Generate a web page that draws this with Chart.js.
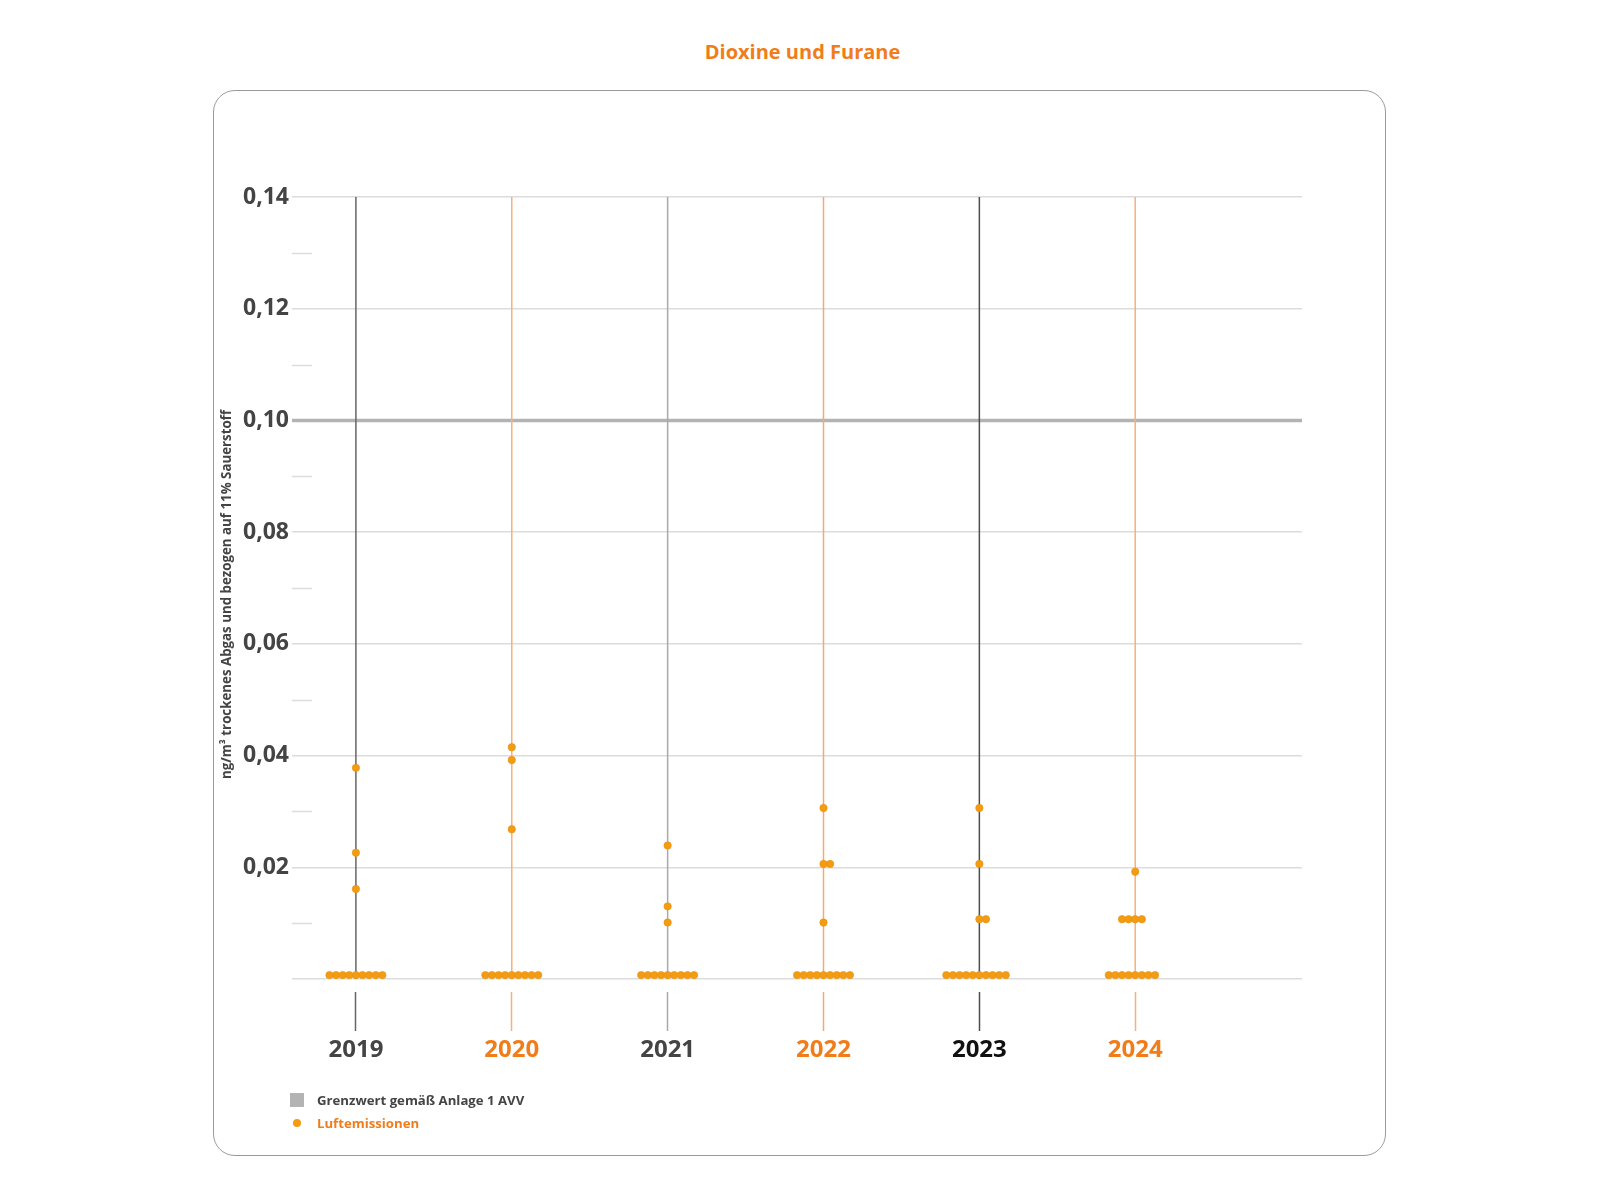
<!DOCTYPE html>
<html lang="de">
<head>
<meta charset="utf-8">
<title>Dioxine und Furane</title>
<script src="https://cdn.jsdelivr.net/npm/chart.js@4.4.1/dist/chart.umd.min.js"></script>
<style>
  html, body { margin: 0; padding: 0; background: #fff; }
  body { width: 1600px; height: 1200px; position: relative; overflow: hidden; font-family: "Open Sans", sans-serif; }
  #titel { position: absolute; left: 0; width: 1605px; top: 38px; text-align: center; font-size: 20px; font-weight: 700; color: #f07d1a; }
  #rahmen { position: absolute; left: 213px; top: 90px; width: 1173px; height: 1066px; border: 1.5px solid #9b9b9b; border-radius: 22px; box-sizing: border-box; }
  #diagramm { position: absolute; left: 0; top: 0; }
  #legende { position: absolute; left: 290px; top: 1088px; font-size: 13.2px; font-weight: 700; }
  .eintrag { display: flex; align-items: center; height: 23.5px; }
  .symbol { width: 27px; display: flex; align-items: center; }
  .quadrat { width: 14px; height: 14px; background: #b3b3b3; }
  .punkt { width: 8px; height: 8px; border-radius: 50%; background: #f39c12; margin-left: 3px; }
</style>
</head>
<body>
<div id="titel">Dioxine und Furane</div>
<div id="rahmen"></div>
<canvas id="diagramm" width="1600" height="1200"></canvas>
<div id="legende">
  <div class="eintrag" style="color:#444"><span class="symbol"><span class="quadrat"></span></span>Grenzwert gemäß Anlage 1 AVV</div>
  <div class="eintrag" style="color:#f07d1a"><span class="symbol"><span class="punkt"></span></span>Luftemissionen</div>
</div>
<script>
// Messwerte je Jahr (ng/m³)
const jahre = [2019, 2020, 2021, 2022, 2023, 2024];
const werte2019 = [0.0378, 0.0226, 0.0161, 0.0007, 0.0007, 0.0007, 0.0007, 0.0007, 0.0007, 0.0007, 0.0007, 0.0007];
const werte2020 = [0.0415, 0.0392, 0.0268, 0.0007, 0.0007, 0.0007, 0.0007, 0.0007, 0.0007, 0.0007, 0.0007, 0.0007];
const werte2021 = [0.0239, 0.0130, 0.0101, 0.0007, 0.0007, 0.0007, 0.0007, 0.0007, 0.0007, 0.0007, 0.0007, 0.0007];
const werte2022 = [0.0306, 0.0206, 0.0206, 0.0101, 0.0007, 0.0007, 0.0007, 0.0007, 0.0007, 0.0007, 0.0007, 0.0007, 0.0007];
const werte2023 = [0.0306, 0.0206, 0.0107, 0.0107, 0.0007, 0.0007, 0.0007, 0.0007, 0.0007, 0.0007, 0.0007, 0.0007, 0.0007, 0.0007];
const werte2024 = [0.0192, 0.0107, 0.0107, 0.0107, 0.0107, 0.0007, 0.0007, 0.0007, 0.0007, 0.0007, 0.0007, 0.0007, 0.0007];
const messwerte = [werte2019, werte2020, werte2021, werte2022, werte2023, werte2024];

const grenzwert = 0.1;
const yTicks = [0, 0.02, 0.04, 0.06, 0.08, 0.1, 0.12, 0.14];
const yNebenTicks = [0.01, 0.03, 0.05, 0.07, 0.09, 0.11, 0.13];

// Farben
const linienFarben = ['#666666', '#f7b07a', '#a9a9a9', '#f5a870', '#4d4d4d', '#f7b07a'];
const labelFarben = ['#444444', '#f07d1a', '#444444', '#f07d1a', '#111111', '#f07d1a'];
const orange = '#f39c12';

const xMin = 2018.59, xMax = 2025.07;
const yMin = -0.00233, yMax = 0.14;
const punktAbstand = 0.0424; // horizontaler Abstand gleicher Werte (in Jahren)

// Punkte mit gleichem Wert nebeneinander legen
const punkte = [];
jahre.forEach((jahr, i) => {
  const gruppen = {};
  messwerte[i].forEach(v => { (gruppen[v] = gruppen[v] || []).push(v); });
  Object.values(gruppen).forEach(g => {
    const n = g.length;
    // Paare: erster Punkt auf der Linie, zweiter rechts daneben
    const start = n === 2 ? 0 : -Math.floor(n / 2);
    g.forEach((v, k) => {
      punkte.push({ x: jahr + (start + k) * punktAbstand, y: v });
    });
  });
});

// kurze Zwischenstriche an der y-Achse
const nebenStriche = {
  id: 'nebenStriche',
  beforeDatasetsDraw(chart) {
    const { ctx, chartArea, scales: { y } } = chart;
    ctx.save();
    ctx.strokeStyle = '#dcdcdc';
    ctx.lineWidth = 1.5;
    yNebenTicks.forEach(v => {
      const py = Math.round(y.getPixelForValue(v)) + 0.5;
      ctx.beginPath();
      ctx.moveTo(chartArea.left, py);
      ctx.lineTo(chartArea.left + 20, py);
      ctx.stroke();
    });
    ctx.restore();
  }
};

Chart.defaults.font.family = '"Open Sans", sans-serif';

const datasets = [
  {
    label: 'Grenzwert gemäß Anlage 1 AVV',
    data: [{ x: xMin, y: grenzwert }, { x: xMax, y: grenzwert }],
    showLine: true,
    borderColor: '#b3b3b3',
    borderWidth: 3.5,
    pointRadius: 0,
    order: 3
  }
];

jahre.forEach((jahr, i) => {
  datasets.push({
    label: 'Jahr ' + jahr,
    data: [{ x: jahr, y: 0 }, { x: jahr, y: yMax }],
    showLine: true,
    borderColor: linienFarben[i],
    borderWidth: 1.5,
    pointRadius: 0,
    order: 2
  });
});

datasets.push({
  label: 'Luftemissionen',
  data: punkte,
  backgroundColor: orange,
  borderColor: '#e8900c',
  borderWidth: 0.6,
  pointRadius: 3.7,
  order: 1
});

const ctx = document.getElementById('diagramm').getContext('2d');
new Chart(ctx, {
  type: 'scatter',
  data: { datasets },
  options: {
    responsive: false,
    animation: false,
    devicePixelRatio: 1,
    layout: { padding: { left: 200, top: 197, right: 298, bottom: 128 } },
    plugins: {
      legend: { display: false },
      tooltip: { enabled: false }
    },
    scales: {
      x: {
        type: 'linear',
        min: xMin,
        max: xMax,
        afterBuildTicks: scale => { scale.ticks = jahre.map(v => ({ value: v })); },
        afterFit: scale => { scale.height = 80; },
        border: { display: false },
        grid: {
          drawOnChartArea: false,
          drawTicks: true,
          tickLength: 39,
          tickWidth: 1.5,
          tickColor: c => linienFarben[c.index]
        },
        ticks: {
          padding: 5,
          autoSkip: false,
          maxRotation: 0,
          color: c => labelFarben[c.index],
          font: { size: 24, weight: 'bold' },
          callback: v => String(v)
        }
      },
      y: {
        min: yMin,
        max: yMax,
        afterBuildTicks: scale => { scale.ticks = yTicks.map(v => ({ value: v })); },
        afterFit: scale => { scale.width = 92; },
        border: { display: false },
        grid: {
          color: '#dcdcdc',
          lineWidth: 1.5,
          drawTicks: false
        },
        ticks: {
          padding: 3,
          color: '#444444',
          font: { size: 23, weight: 'bold' },
          callback: v => v === 0 ? '' : v.toFixed(2).replace('.', ',')
        },
        title: {
          display: true,
          text: 'ng/m³ trockenes Abgas und bezogen auf 11% Sauerstoff',
          color: '#444444',
          font: { size: 13.3, weight: 'bold' },
          padding: { top: 19, bottom: 0 }
        }
      }
    }
  },
  plugins: [nebenStriche]
});
</script>
</body>
</html>
